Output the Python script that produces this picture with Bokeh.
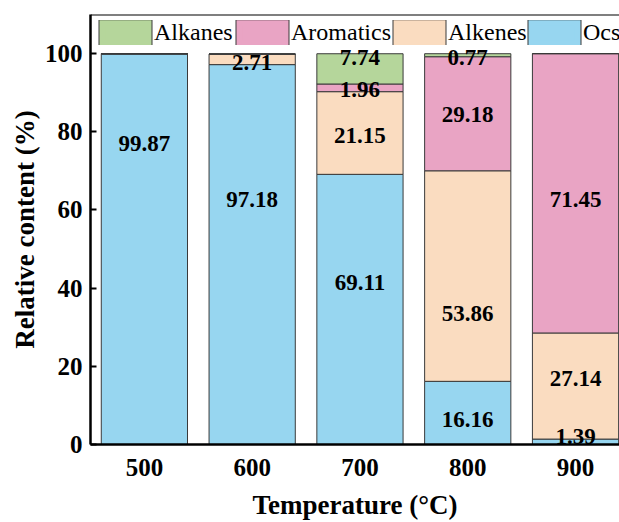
from bokeh.plotting import figure
from bokeh.models import ColumnDataSource, Legend, LegendItem, Span, FixedTicker
from bokeh.core.properties import value
from bokeh.embed import file_html
from bokeh.resources import INLINE

# ---- data ----
temps = [500, 600, 700, 800, 900]
ocs = [99.87, 97.18, 69.11, 16.16, 1.39]
alkenes = [0.13, 2.71, 21.15, 53.86, 27.14]
aromatics = [0.0, 0.0, 1.96, 29.18, 71.45]
alkanes = [0.0, 0.0, 7.74, 0.77, 0.0]

# value labels: (temperature, text, vertical position in %)
label_temps = [500, 600, 600, 700, 700, 700, 700, 800, 800, 800, 800, 900, 900, 900]
label_vals = [99.87, 97.18, 2.71, 69.11, 21.15, 1.96, 7.74, 16.16, 53.86, 29.18, 0.77, 1.39, 27.14, 71.45]
label_pos = [76.9, 62.6, 97.7, 41.4, 79.1, 90.8, 98.9, 6.5, 33.5, 84.3, 98.9, 2.0, 16.8, 62.8]

y_ticks = [0, 20, 40, 60, 80, 100]

series = ["ocs", "alkenes", "aromatics", "alkanes"]
names = {"ocs": "Ocs", "alkenes": "Alkenes", "aromatics": "Aromatics", "alkanes": "Alkanes"}
colors = ["#97D6F0", "#FADCC0", "#E9A4C4", "#B5D69B"]
EDGE = "#3a3a3a"

FONT = "'Liberation Serif'"

source = ColumnDataSource(dict(temp=temps, ocs=ocs, alkenes=alkenes,
                               aromatics=aromatics, alkanes=alkanes))

p = figure(width=619, height=522, x_range=(450, 940.8), y_range=(0, 110),
           output_backend="svg", toolbar_location=None,
           min_border_left=90, min_border_right=0, min_border_top=14, min_border_bottom=76)
p.outline_line_color = None
p.grid.visible = False
p.background_fill_color = "white"
p.border_fill_color = "white"

renderers = p.vbar_stack(series, x="temp", width=80, source=source,
                         fill_color=colors, line_color=EDGE, line_width=1)

# value labels
lsrc = ColumnDataSource(dict(x=label_temps, y=label_pos,
                             t=["%.2f" % v for v in label_vals]))
p.text(x="x", y="y", text="t", source=lsrc, text_font=value(FONT),
       text_font_style="bold", text_font_size="23px", text_align="center",
       text_baseline="middle", text_color="black")

# top frame line
p.add_layout(Span(location=110, dimension="width", line_color="black", line_width=2))

# axes
for ax in (p.xaxis[0], p.yaxis[0]):
    ax.axis_line_width = 2.5
    ax.axis_line_color = "black"
    ax.major_tick_line_width = 2
    ax.major_tick_line_color = "black"
    ax.minor_tick_line_color = None
    ax.major_label_text_font = FONT
    ax.major_label_text_font_style = "bold"
    ax.major_label_text_font_size = "25px"
    ax.major_label_text_color = "black"
    ax.axis_label_text_font = FONT
    ax.axis_label_text_font_style = "bold"
    ax.axis_label_text_font_size = "27px"
    ax.axis_label_text_color = "black"

p.xaxis.ticker = FixedTicker(ticks=temps)
p.xaxis.major_tick_in = 0
p.xaxis.major_tick_out = 0
p.xaxis.major_label_standoff = 14
p.xaxis.axis_label = "Temperature (°C)"
p.xaxis.axis_label_standoff = 11

p.yaxis.ticker = FixedTicker(ticks=y_ticks)
p.yaxis.major_tick_in = 6
p.yaxis.major_tick_out = 0
p.yaxis.major_label_standoff = 8
p.yaxis.axis_label = "Relative content (%)"
p.yaxis.axis_label_standoff = 2

# legend swatches: full-size boxes with a thin dark edge.
# Legend-only renderers: a single zero-height bar at x=0, outside the visible x range.
cmap = dict(zip(series, colors))
legend_order = ["alkanes", "aromatics", "alkenes", "ocs"]
legend_x = [6, 143, 300, 435]  # screen px from the frame's left edge
for s, lx in zip(legend_order, legend_x):
    dummy = ColumnDataSource(dict(x=[0], top=[0]))
    edge_r = p.vbar(x="x", top="top", width=1, source=dummy, fill_color=None,
                    line_color=EDGE, line_width=7.6, line_join="miter")
    fill_r = p.vbar(x="x", top="top", width=1, source=dummy, fill_color=cmap[s],
                    line_color=cmap[s], line_width=5.6, line_join="miter")
    lg = Legend(items=[LegendItem(label=names[s], renderers=[edge_r, fill_r])],
                orientation="horizontal", location=(lx, 398),
                glyph_width=58, glyph_height=25, label_standoff=0, spacing=0,
                padding=0, margin=0, label_height=25,
                label_text_font=FONT, label_text_font_size="24px",
                label_text_color="black", label_text_baseline="middle",
                border_line_color=None, background_fill_alpha=0)
    p.add_layout(lg, "center")

open("out.html", "w").write(file_html(p, INLINE))
